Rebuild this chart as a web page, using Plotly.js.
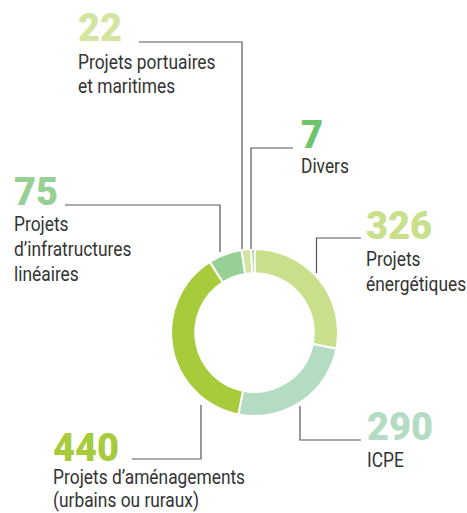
<!DOCTYPE html>
<html>
<head>
<meta charset="utf-8">
<script src="https://cdn.plot.ly/plotly-3.0.1.min.js"></script>
<style>
  html, body { margin: 0; padding: 0; background: #fff; }
  #chart { width: 467px; height: 513px; }
</style>
</head>
<body>
<div id="chart"></div>
<script>
// categories, clockwise from 12 o'clock
var categories = ['Projets énergétiques', 'ICPE', "Projets d’aménagements (urbains ou ruraux)",
  "Projets d’infratructures linéaires", 'Projets portuaires et maritimes', 'Divers'];
var counts = [326, 290, 440, 75, 22, 7];
var sliceColors = ['#c8df8b', '#b4dcc3', '#a7cb3b', '#98cf95', '#d3e5a0', '#6ec46c'];
var labelLines = [
  ['Projets', 'énergétiques'],
  ['ICPE'],
  ['Projets d’aménagements', '(urbains ou ruraux)'],
  ['Projets', 'd’infratructures', 'linéaires'],
  ['Projets portuaires', 'et maritimes'],
  ['Divers']
];

var W = 467, H = 513;
function px(x) { return x / W; }
function py(y) { return 1 - y / H; }

// callout placement in pixels: left x, number middle, first text line middle, line step, connector path
var callouts = [
  {x: 365, ny: 226, ty: 259, step: 25, path: [[361, 238], [316.5, 238], [316.5, 273]]},
  {x: 366, ny: 427, ty: 460, step: 25, path: [[361, 440], [300, 440], [300, 406]]},
  {x: 52, ny: 448, ty: 477, step: 23.5, path: [[132, 459], [201, 459], [201, 405]]},
  {x: 13, ny: 192, ty: 224, step: 25, path: [[65, 205], [220, 205], [220, 252]]},
  {x: 77, ny: 28, ty: 62, step: 25, path: [[139, 42], [242, 42], [242, 249]]},
  {x: 300, ny: 135, ty: 167, step: 25, path: [[293, 148], [251, 148], [251, 249]]}
];

var numFont = 'Roboto, Arial, sans-serif';
var txtFont = 'Roboto, Arial, sans-serif';
var txtSize = 19.5;

var annotations = [];
var shapes = [];
callouts.forEach(function (c, i) {
  annotations.push({
    xref: 'paper', yref: 'paper', x: px(c.x), y: py(c.ny),
    xanchor: 'left', yanchor: 'middle', showarrow: false, borderpad: 0,
    text: String(counts[i]),
    font: {family: numFont, size: 38, weight: 900, color: sliceColors[i]}
  });
  labelLines[i].forEach(function (line, k) {
    annotations.push({
      xref: 'paper', yref: 'paper', x: px(c.x), y: py(c.ty + k * c.step),
      xanchor: 'left', yanchor: 'middle', showarrow: false, borderpad: 0,
      text: line,
      font: {family: txtFont, size: txtSize, color: '#333333'}
    });
  });
  var d = 'M ' + c.path.map(function (p) { return px(p[0]) + ' ' + py(p[1]); }).join(' L ');
  shapes.push({type: 'path', xref: 'paper', yref: 'paper', path: d,
    line: {color: '#555555', width: 1.2}});
});

var data = [{
  type: 'pie',
  labels: categories,
  values: counts,
  sort: false,
  direction: 'clockwise',
  rotation: 0,
  hole: 0.71,
  textinfo: 'none',
  hoverinfo: 'label+value',
  marker: {colors: sliceColors, line: {color: '#ffffff', width: 2}},
  domain: {x: [px(171), px(338)], y: [py(416), py(249)]}
}];

var layout = {
  width: W, height: H,
  margin: {l: 0, r: 0, t: 0, b: 0},
  showlegend: false,
  paper_bgcolor: '#ffffff',
  annotations: annotations,
  shapes: shapes
};

Plotly.newPlot('chart', data, layout, {displayModeBar: false, staticPlot: true}).then(function () {
  // squeeze label text horizontally to get the condensed look of the original
  document.querySelectorAll('#chart .annotation-text').forEach(function (el) {
    if (parseFloat(el.style.fontSize) < 30) {
      el.style.transformBox = 'fill-box';
      el.style.transformOrigin = '0 50%';
      el.style.transform = 'scaleX(0.89)';
    }
  });
});
</script>
</body>
</html>
